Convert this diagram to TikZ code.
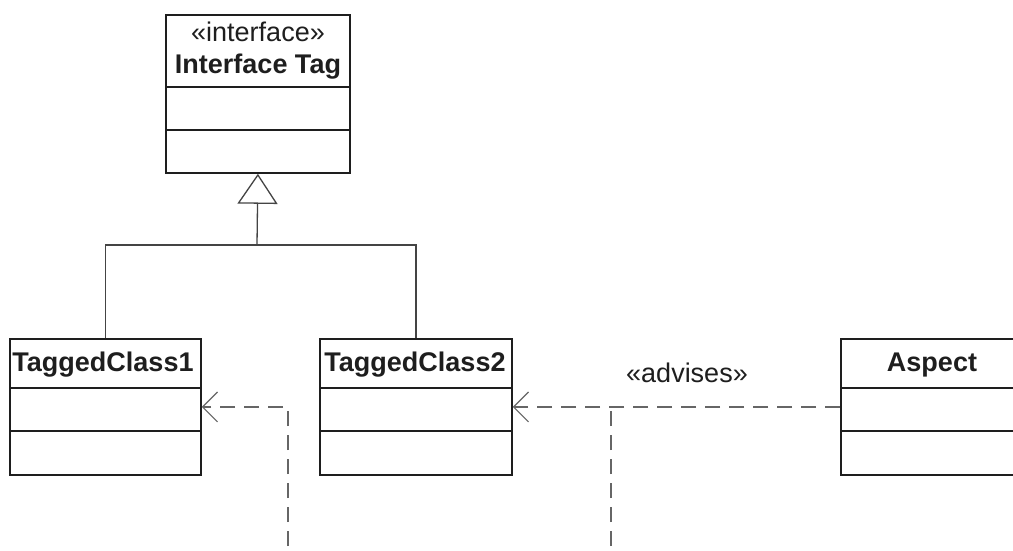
\documentclass[tikz,border=0pt]{standalone}
\usepackage{fontspec}
\setmainfont{Liberation Sans}
\usetikzlibrary{arrows.meta}
\definecolor{ink}{HTML}{1E1E1E}
\definecolor{gline}{HTML}{444444}
\definecolor{dline}{HTML}{666666}
\begin{document}
\begin{tikzpicture}[x=1pt,y=-1pt,
  font=\fontsize{27}{31}\selectfont, text=ink,
  clsbox/.style={draw=ink, line width=1.8pt, fill=white, inner sep=0pt, anchor=north west, minimum height=#1},
  sep/.style={draw=ink, line width=1.8pt},
  lbl/.style={anchor=base, inner sep=0pt},
  bold/.style={font=\fontsize{27}{31}\selectfont\bfseries},
  gen/.style={draw=gline, line width=1.3pt},
  dep/.style={draw=dline, line width=1.3pt, dash pattern=on 15pt off 9pt},
  barb/.style={-{Straight Barb[length=15pt, width=30pt, line width=1.1pt]}},
]
\useasboundingbox (0,0) rectangle (1013,551);
\fill[white] (0,0) rectangle (1013,551);
\clip (0,0) rectangle (1013,551);

% Interface Tag
\node[clsbox=158pt, minimum width=184pt] (iface) at (165,14) {};
\draw[sep] ([yshift=-73pt]iface.north west) -- ([yshift=-73pt]iface.north east);
\draw[sep] ([yshift=-116pt]iface.north west) -- ([yshift=-116pt]iface.north east);
\node[lbl] (ifst) at (258,42) {«interface»};
\node[lbl, bold] (ifnm) at (258,74) {Interface Tag};

% TaggedClass1
\node[clsbox=136pt, minimum width=191pt] (tc1) at (9,338) {};
\draw[sep] ([yshift=-50pt]tc1.north west) -- ([yshift=-50pt]tc1.north east);
\draw[sep] ([yshift=-93pt]tc1.north west) -- ([yshift=-93pt]tc1.north east);
\node[lbl, bold] (tc1n) at (103,371) {TaggedClass1};

% TaggedClass2
\node[clsbox=136pt, minimum width=192pt] (tc2) at (319,338) {};
\draw[sep] ([yshift=-50pt]tc2.north west) -- ([yshift=-50pt]tc2.north east);
\draw[sep] ([yshift=-93pt]tc2.north west) -- ([yshift=-93pt]tc2.north east);
\node[lbl, bold] (tc2n) at (415,371) {TaggedClass2};

% Aspect
\node[clsbox=136pt, minimum width=184pt] (asp) at (840,338) {};
\draw[sep] ([yshift=-50pt]asp.north west) -- ([yshift=-50pt]asp.north east);
\draw[sep] ([yshift=-93pt]asp.north west) -- ([yshift=-93pt]asp.north east);
\node[lbl, bold] (aspn) at (932,371) {Aspect};

% generalization
\coordinate (gj) at (257,245);
\draw[gen] (tc1.north) |- (gj) -| (tc2.north);
\draw[gen, -{Triangle[open, length=30pt, width=40pt, fill=white]}] (gj) -- (iface.south);

% dependencies
\coordinate (d1) at (288,570);
\coordinate (d2) at (611,570);
\coordinate (dj) at (611,406);
\draw[dep, barb] (asp.west) -- (tc2.east);
\draw[dep] (d2) -- (dj);
\draw[dep, barb] (d1) |- (tc1.east);
\node[lbl] (adv) at (687,382) {«advises»};
\end{tikzpicture}
\end{document}
